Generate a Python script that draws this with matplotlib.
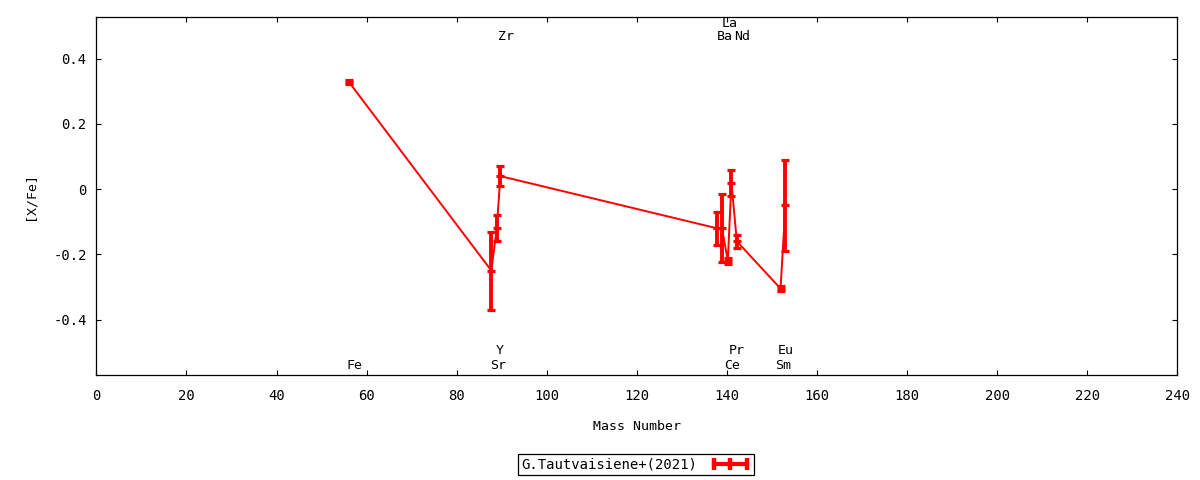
import matplotlib
matplotlib.use('Agg')
import matplotlib.pyplot as plt
from matplotlib.lines import Line2D

# [X/Fe] per element, plotted against mass number
elements = ['Fe', 'Sr', 'Y', 'Zr', 'Ba', 'La', 'Ce', 'Pr', 'Nd', 'Sm', 'Eu']
mass = [56.0, 87.7, 88.9, 89.7, 137.8, 138.9, 140.2, 141.0, 142.2, 151.9, 153.0]
xfe = [0.33, -0.25, -0.12, 0.04, -0.12, -0.12, -0.22, 0.02, -0.16, -0.305, -0.05]
err = [0.006, 0.12, 0.04, 0.03, 0.05, 0.105, 0.01, 0.04, 0.02, 0.008, 0.14]

# element name labels (left edge x, y)
label_x = [55.6, 87.5, 88.6, 89.2, 137.8, 138.8, 139.4, 140.5, 141.6, 150.7, 151.3]
label_y = [-0.54, -0.54, -0.495, 0.468, 0.468, 0.508, -0.54, -0.495, 0.468, -0.54, -0.495]

xticks = list(range(0, 241, 20))
yticks = [-0.4, -0.2, 0, 0.2, 0.4]
ytick_labels = ['-0.4', '-0.2', '0', '0.2', '0.4']
series_name = 'G.Tautvaisiene+(2021)'

plt.rcParams['font.family'] = ['DejaVu Sans Mono']
plt.rcParams['font.size'] = 10

fig = plt.figure(figsize=(12, 4.8), dpi=100)
ax = fig.add_axes([0.0803, 0.2188, 0.9008, 0.7451])

ax.errorbar(mass, xfe, yerr=err, color='#ff0000', lw=1.4, elinewidth=2.8,
            capsize=3, capthick=2.3, marker='_', ms=6, mew=2.3)

for name, lx, ly in zip(elements, label_x, label_y):
    ax.text(lx, ly, name, ha='left', va='center', fontsize=9.5)

ax.set_xlim(0, 240)
ax.set_ylim(-0.57, 0.527)
ax.set_xticks(xticks)
ax.set_yticks(yticks)
ax.set_yticklabels(ytick_labels)
ax.tick_params(direction='in', length=3.4, width=0.8, top=True, right=True,
               labelsize=10)
ax.tick_params(axis='x', pad=10)
ax.tick_params(axis='y', pad=7)
for s in ax.spines.values():
    s.set_linewidth(0.9)

ax.set_xlabel('Mass Number', fontsize=9.5, labelpad=12)
ax.set_ylabel('[X/Fe]', fontsize=9.5, labelpad=12)

handle = Line2D([], [], color='#ff0000', lw=3, marker='|', ms=8, mew=3.2)
leg = fig.legend([handle], [series_name], loc='center', bbox_to_anchor=(0.53, 0.0325),
                 numpoints=3, markerfirst=False, frameon=True, fancybox=False,
                 edgecolor='black', framealpha=1, handlelength=3.0, borderpad=0.25,
                 handletextpad=0.9, fontsize=10)
leg.get_frame().set_linewidth(0.9)

fig.savefig('out.png', dpi=100)
